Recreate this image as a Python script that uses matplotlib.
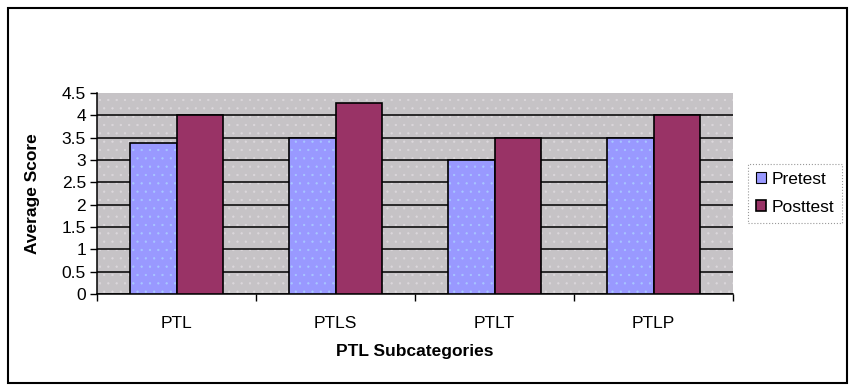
import numpy as np
import matplotlib
matplotlib.use('Agg')
import matplotlib.pyplot as plt
from matplotlib.patches import Rectangle

categories = ['PTL', 'PTLS', 'PTLT', 'PTLP']
pretest = [3.37, 3.5, 3.0, 3.5]
posttest = [4.0, 4.27, 3.5, 4.0]
yticks = [0, 0.5, 1, 1.5, 2, 2.5, 3, 3.5, 4, 4.5]

plt.rcParams['font.family'] = ['Liberation Sans', 'DejaVu Sans']
plt.rcParams['hatch.linewidth'] = 0.4

fig = plt.figure(figsize=(8.54, 3.89), dpi=100)
W, H = 854, 389
# outer chart border
fig.patches.append(Rectangle((8 / W, 1 - 383 / H), 839 / W, 375 / H,
                             transform=fig.transFigure, fill=False,
                             edgecolor='black', linewidth=1.5))

ax = fig.add_axes([97 / W, 1 - 294 / H, 636 / W, 201 / H])
ax.set_facecolor('#c6c3c6')
ax.add_patch(Rectangle((0, 0), 1, 1, transform=ax.transAxes, facecolor='none',
                       edgecolor='#dcd8dc', hatch='..', linewidth=0, zorder=0))

x = np.arange(len(categories))
w = 0.29
ax.bar(x - w / 2, pretest, w, color='#9999ff', edgecolor='#a8c8ff',
       hatch='..', linewidth=0, zorder=3)
ax.bar(x - w / 2, pretest, w, fill=False, edgecolor='black', linewidth=1.2, zorder=4)
ax.bar(x + w / 2, posttest, w, color='#993366', edgecolor='black',
       linewidth=1.2, zorder=4, label='Posttest')
ax.bar([0], [0], 0, color='#9999ff', edgecolor='black', linewidth=0.8, label='Pretest')

ax.set_xlim(-0.5, len(categories) - 0.5)
ax.set_ylim(0, 4.5)
ax.set_yticks(yticks)
ax.set_yticklabels([f'{v:g}' for v in yticks])
ax.set_xticks(np.arange(len(categories) + 1) - 0.5)
ax.set_xticklabels([])
ax.set_xticks(x, minor=True)
ax.set_xticklabels(categories, minor=True)
ax.tick_params(axis='x', which='major', length=5, width=1, direction='out')
ax.tick_params(axis='x', which='minor', length=0, pad=16, labelsize=12.5)
ax.tick_params(axis='y', length=5, width=1, pad=3, labelsize=12.5)

ax.yaxis.grid(True, color='black', linewidth=1.1, zorder=1)
ax.set_axisbelow(True)
ax.yaxis.get_gridlines()[-1].set_visible(False)

for s in ['top', 'right']:
    ax.spines[s].set_visible(False)
for s in ['left', 'bottom']:
    ax.spines[s].set_linewidth(1.1)

ax.set_ylabel('Average Score', fontsize=12.5, fontweight='bold')
ax.yaxis.set_label_coords((40 - 97) / 636, 0.5)
ax.set_xlabel('PTL Subcategories', fontsize=12.5, fontweight='bold')
ax.xaxis.set_label_coords(0.5, (294 - 344) / 201)

handles, labels = ax.get_legend_handles_labels()
order = [labels.index('Pretest'), labels.index('Posttest')]
leg = fig.legend([handles[i] for i in order], [labels[i] for i in order],
                 loc='upper left', bbox_to_anchor=(748 / W, 1 - 164 / H),
                 frameon=True, fancybox=False, fontsize=12.5, handlelength=0.6,
                 handleheight=0.6, handletextpad=0.3, borderpad=0.45,
                 labelspacing=0.75, borderaxespad=0)
leg.get_frame().set_edgecolor('#808080')
leg.get_frame().set_linewidth(0.8)
leg.get_frame().set_linestyle(':')

fig.savefig('out.png', dpi=100)
